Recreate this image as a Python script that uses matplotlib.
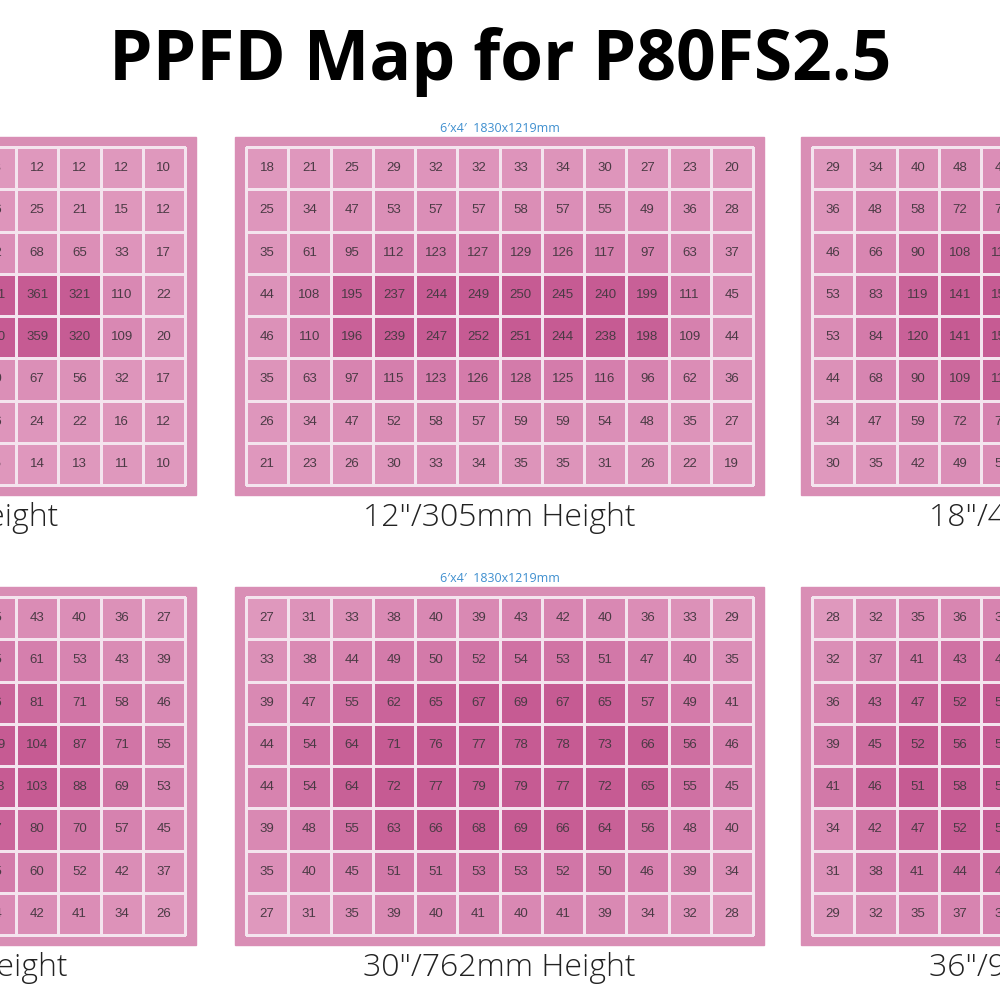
import matplotlib.pyplot as plt
import numpy as np
from matplotlib.colors import LinearSegmentedColormap, Normalize
from matplotlib.patches import Rectangle

title = "PPFD Map for P80FS2.5"
area_label = "6\u2032x4\u2032  1830x1219mm"

captions = ["6\u2033/152mm Height", "12\u2033/305mm Height", "18\u2033/457mm Height",
            "24\u2033/610mm Height", "30\u2033/762mm Height", "36\u2033/914mm Height"]

ppfd_6 = [
    [10, 11, 12, 12, 13, 13, 13, 13, 12, 12, 12, 10],
    [12, 15, 22, 26, 27, 26, 26, 26, 25, 21, 15, 12],
    [17, 33, 66, 72, 74, 73, 72, 72, 68, 65, 33, 17],
    [22, 110, 322, 365, 380, 382, 381, 381, 361, 321, 110, 22],
    [20, 109, 320, 360, 378, 380, 380, 380, 359, 320, 109, 20],
    [17, 32, 57, 68, 72, 72, 70, 70, 67, 56, 32, 17],
    [12, 16, 22, 25, 26, 26, 26, 26, 24, 22, 16, 12],
    [10, 11, 13, 14, 15, 15, 15, 15, 14, 13, 11, 10],
]
ppfd_12 = [
    [18, 21, 25, 29, 32, 32, 33, 34, 30, 27, 23, 20],
    [25, 34, 47, 53, 57, 57, 58, 57, 55, 49, 36, 28],
    [35, 61, 95, 112, 123, 127, 129, 126, 117, 97, 63, 37],
    [44, 108, 195, 237, 244, 249, 250, 245, 240, 199, 111, 45],
    [46, 110, 196, 239, 247, 252, 251, 244, 238, 198, 109, 44],
    [35, 63, 97, 115, 123, 126, 128, 125, 116, 96, 62, 36],
    [26, 34, 47, 52, 58, 57, 59, 59, 54, 48, 35, 27],
    [21, 23, 26, 30, 33, 34, 35, 35, 31, 26, 22, 19],
]
ppfd_18 = [
    [29, 34, 40, 48, 49, 50, 50, 49, 48, 40, 34, 29],
    [36, 48, 58, 72, 74, 75, 75, 74, 72, 58, 48, 36],
    [46, 66, 90, 108, 115, 117, 117, 115, 108, 90, 66, 46],
    [53, 83, 119, 141, 150, 152, 152, 150, 141, 119, 83, 53],
    [53, 84, 120, 141, 150, 152, 152, 150, 141, 120, 84, 53],
    [44, 68, 90, 109, 115, 117, 117, 115, 109, 90, 68, 44],
    [34, 47, 59, 72, 74, 75, 75, 74, 72, 59, 47, 34],
    [30, 35, 42, 49, 51, 52, 52, 51, 49, 42, 35, 30],
]
ppfd_24 = [
    [27, 36, 40, 43, 45, 46, 46, 45, 43, 40, 36, 27],
    [39, 43, 53, 61, 65, 66, 66, 65, 61, 53, 43, 39],
    [46, 58, 71, 81, 86, 88, 88, 86, 81, 71, 58, 46],
    [55, 71, 87, 104, 110, 112, 112, 109, 104, 87, 71, 55],
    [53, 69, 88, 103, 110, 112, 112, 113, 103, 88, 69, 53],
    [45, 57, 70, 80, 85, 87, 87, 87, 80, 70, 57, 45],
    [37, 42, 52, 60, 64, 66, 66, 65, 60, 52, 42, 37],
    [26, 34, 41, 42, 44, 45, 45, 44, 42, 41, 34, 26],
]
ppfd_30 = [
    [27, 31, 33, 38, 40, 39, 43, 42, 40, 36, 33, 29],
    [33, 38, 44, 49, 50, 52, 54, 53, 51, 47, 40, 35],
    [39, 47, 55, 62, 65, 67, 69, 67, 65, 57, 49, 41],
    [44, 54, 64, 71, 76, 77, 78, 78, 73, 66, 56, 46],
    [44, 54, 64, 72, 77, 79, 79, 77, 72, 65, 55, 45],
    [39, 48, 55, 63, 66, 68, 69, 66, 64, 56, 48, 40],
    [35, 40, 45, 51, 51, 53, 53, 52, 50, 46, 39, 34],
    [27, 31, 35, 39, 40, 41, 40, 41, 39, 34, 32, 28],
]
ppfd_36 = [
    [28, 32, 35, 36, 37, 38, 38, 37, 36, 35, 32, 28],
    [32, 37, 41, 43, 44, 45, 45, 44, 43, 41, 37, 32],
    [36, 43, 47, 52, 53, 54, 54, 53, 52, 47, 43, 36],
    [39, 45, 52, 56, 57, 58, 58, 57, 56, 52, 45, 39],
    [41, 46, 51, 58, 58, 59, 59, 58, 58, 51, 46, 41],
    [34, 42, 47, 52, 53, 54, 54, 53, 52, 47, 42, 34],
    [31, 38, 41, 44, 45, 46, 46, 45, 44, 41, 38, 31],
    [29, 32, 35, 37, 38, 38, 38, 38, 37, 35, 32, 29],
]
maps = [ppfd_6, ppfd_12, ppfd_18, ppfd_24, ppfd_30, ppfd_36]

# pixel layout of the grids (left edge, top edge)
grid_x = [-322, 246, 812]
grid_y = [147, 597]
cell = 42.25

cmap = LinearSegmentedColormap.from_list("pinks", ["#df98bd", "#d57fad", "#c65b93"])

fig = plt.figure(figsize=(10, 10), dpi=100)
ax = fig.add_axes([0, 0, 1, 1])
ax.set_xlim(0, 1000)
ax.set_ylim(1000, 0)
ax.axis("off")

for i, data in enumerate(maps):
    vals = np.array(data)
    x0 = grid_x[i % 3]
    y0 = grid_y[i // 3]
    w, h = 12 * cell, 8 * cell
    ax.add_patch(Rectangle((x0 - 11, y0 - 10), w + 22, h + 20, color="#d98eb5", zorder=1))
    xe = x0 + cell * np.arange(13)
    ye = y0 + cell * np.arange(9)
    norm = Normalize(vals.min(), vals.max() * 0.85)
    ax.pcolormesh(xe, ye, vals, cmap=cmap, norm=norm, edgecolors="#f4e4ee",
                  linewidth=1, zorder=2)
    for r in range(8):
        for c in range(12):
            ax.text(x0 + (c + 0.5) * cell, y0 + (r + 0.5) * cell, str(vals[r, c]),
                    ha="center", va="center", fontsize=9.5, color="#4a3a44",
                    family="Liberation Sans", zorder=3)
    cx = x0 + w / 2
    ax.text(cx, y0 - 18, area_label, ha="center", va="center", fontsize=9,
            color="#3f8fcf", family=["Open Sans", "DejaVu Sans"])
    ax.text(cx, y0 + h + 33, captions[i], ha="center", va="center", fontsize=23,
            color="#222222", fontweight="light", family=["Open Sans", "DejaVu Sans"])

ax.text(500, 62, title, ha="center", va="center", fontsize=50, fontweight="bold",
        family=["Open Sans", "DejaVu Sans"], color="black")

fig.savefig("out.png", dpi=100)
